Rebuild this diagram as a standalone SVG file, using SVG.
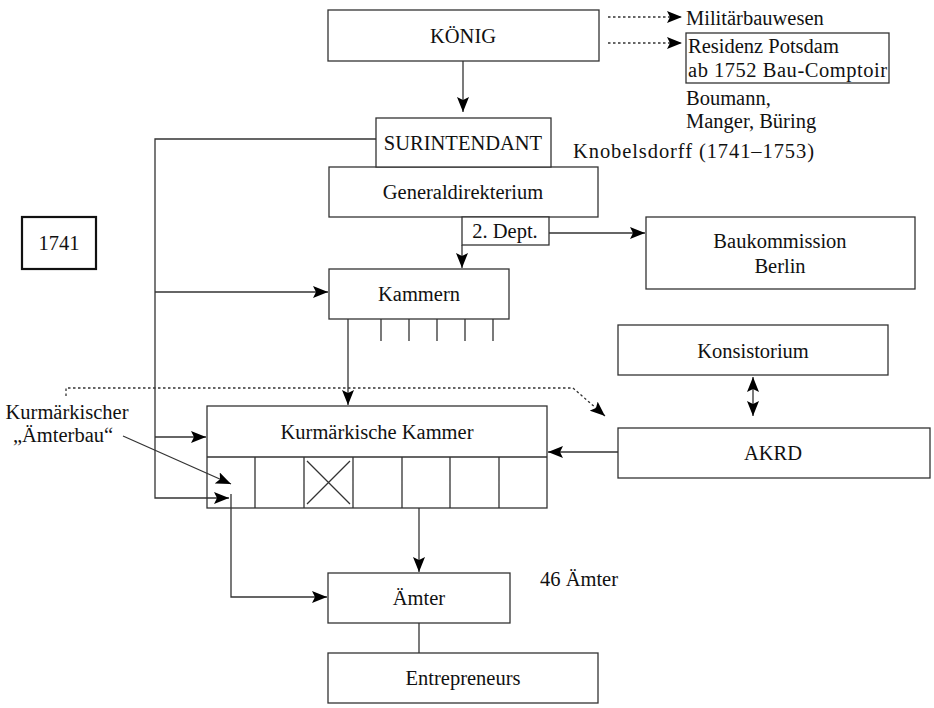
<svg xmlns="http://www.w3.org/2000/svg" width="934" height="708" viewBox="0 0 934 708">
<defs>
<marker id="ah" markerUnits="userSpaceOnUse" markerWidth="16" markerHeight="12" refX="15" refY="6" orient="auto">
<path d="M0,0 L15,6 L0,12 L3,6 Z" fill="#000"/>
</marker>
<marker id="ahs" markerUnits="userSpaceOnUse" markerWidth="16" markerHeight="12" refX="1" refY="6" orient="auto">
<path d="M16,0 L1,6 L16,12 L13,6 Z" fill="#000"/>
</marker>
</defs>

<g fill="#fff" stroke="#333" stroke-width="1.3">
<g id="koenig"><rect x="328" y="10" width="271" height="51"/></g>
<g id="residenz-box"><rect x="686" y="33" width="203" height="50"/></g>
<g id="generaldirekterium-box"><rect x="329" y="167" width="269" height="50"/></g>
<g id="surintendant-box"><rect x="376" y="118" width="175" height="49"/></g>
<g id="dept2-box"><rect x="462" y="217" width="87" height="28"/></g>
<g id="baukommission-box"><rect x="646" y="217" width="269" height="72"/></g>
<g id="y1741-box"><rect x="22" y="217" width="74" height="52" stroke="#111" stroke-width="2.2"/></g>
<g id="kammern-box"><rect x="329" y="269" width="180" height="50"/></g>
<g id="konsistorium-box"><rect x="618" y="325" width="270" height="50"/></g>
<g id="akrd-box"><rect x="618" y="428" width="312" height="50"/></g>
<g id="kurmaerkische-kammer-box">
<rect x="207" y="406" width="340" height="102"/>
<path fill="none" d="M207,457H547 M255,457V508 M304,457V508 M353,457V508 M402,457V508 M450,457V508 M499,457V508 M307,461L350,504 M350,461L307,504"/>
</g>
<g id="aemter-box"><rect x="328" y="573" width="182" height="50"/></g>
<g id="entrepreneurs-box"><rect x="328" y="653" width="270" height="50"/></g>
</g>

<g id="labels" font-family="Liberation Serif" font-size="20.5" fill="#111">
<text x="463" y="43" text-anchor="middle">KÖNIG</text>
<text x="686" y="25">Militärbauwesen</text>
<text x="688" y="53">Residenz Potsdam</text>
<text x="688" y="77" textLength="199" lengthAdjust="spacing">ab 1752 Bau-Comptoir</text>
<text x="686" y="105">Boumann,</text>
<text x="686" y="128">Manger, Büring</text>
<text x="573" y="158" textLength="241" lengthAdjust="spacing">Knobelsdorff (1741–1753)</text>
<text x="463" y="150" text-anchor="middle">SURINTENDANT</text>
<text x="463" y="199" text-anchor="middle">Generaldirekterium</text>
<text x="505" y="238" text-anchor="middle">2. Dept.</text>
<text x="780" y="248" text-anchor="middle">Baukommission</text>
<text x="780" y="273" text-anchor="middle">Berlin</text>
<text x="59" y="250" text-anchor="middle">1741</text>
<text x="419" y="301" text-anchor="middle">Kammern</text>
<text x="753" y="358" text-anchor="middle">Konsistorium</text>
<text x="773" y="460" text-anchor="middle">AKRD</text>
<text x="377" y="439" text-anchor="middle">Kurmärkische Kammer</text>
<text x="67" y="419" text-anchor="middle">Kurmärkischer</text>
<text x="63" y="442" text-anchor="middle">„Ämterbau“</text>
<text x="419" y="605" text-anchor="middle">Ämter</text>
<text x="540" y="586">46 Ämter</text>
<text x="463" y="685" text-anchor="middle">Entrepreneurs</text>
</g>

<g id="connectors" fill="none" stroke="#333" stroke-width="1.3">
<line x1="463" y1="61" x2="463" y2="112" marker-end="url(#ah)"/>
<line x1="608" y1="17" x2="682" y2="17" stroke-dasharray="2.5,2.5" marker-end="url(#ah)"/>
<line x1="608" y1="43" x2="682" y2="43" stroke-dasharray="2.5,2.5" marker-end="url(#ah)"/>
<polyline points="376,139 155,139 155,498 229,498" marker-end="url(#ah)"/>
<line x1="155" y1="292" x2="328" y2="292" marker-end="url(#ah)"/>
<line x1="155" y1="437" x2="206" y2="437" marker-end="url(#ah)"/>
<line x1="462" y1="245" x2="462" y2="268" marker-end="url(#ah)"/>
<line x1="549" y1="233" x2="645" y2="233" marker-end="url(#ah)"/>
<line x1="348" y1="319" x2="348" y2="405" marker-end="url(#ah)"/>
<path d="M381,319V341 M409,319V341 M437,319V341 M465,319V341 M493,319V341"/>
<polyline points="66,396 66,388 573,388 605,416" stroke-dasharray="2.5,2.5" marker-end="url(#ah)"/>
<line x1="753" y1="377" x2="753" y2="416" marker-start="url(#ahs)" marker-end="url(#ah)"/>
<line x1="618" y1="452" x2="548" y2="452" marker-end="url(#ah)"/>
<line x1="123" y1="436" x2="231" y2="484" marker-end="url(#ah)"/>
<polyline points="231,494 231,597 327,597" marker-end="url(#ah)"/>
<line x1="419" y1="508" x2="419" y2="572" marker-end="url(#ah)"/>
<line x1="419" y1="623" x2="419" y2="653"/>
</g>
</svg>
